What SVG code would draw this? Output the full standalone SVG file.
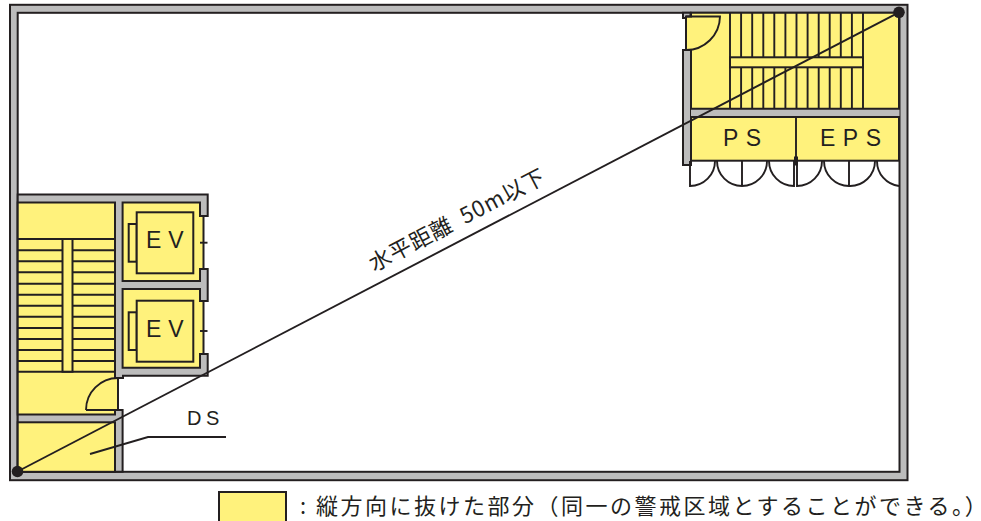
<svg xmlns="http://www.w3.org/2000/svg" width="981" height="521" viewBox="0 0 981 521">
<style>
.w{fill:#bcbcbc;stroke:#231f20;stroke-width:2}
.y{fill:#fff27c;stroke:#231f20;stroke-width:2}
.l{fill:none;stroke:#231f20;stroke-width:1.900}
.t{font-family:"Liberation Sans",Arial,sans-serif;fill:#231f20}
.j{font-family:"Noto Sans CJK JP","Noto Sans",sans-serif;fill:#231f20}
</style>
<rect width="981" height="521" fill="#fff"/>
<g id="building">
<rect class="w" x="10" y="4.800" width="897.500" height="475.400"/>
<rect x="17.700" y="12.800" width="881.800" height="459" fill="#fff" stroke="#231f20" stroke-width="2"/>
</g>
<g id="ne-core">
<path class="w" d="M683 12.800H690.500V18H683Z"/>
<rect class="w" x="683" y="50" width="8" height="115"/>
<path d="M691 12.800H899.500V117H691Z" fill="#bcbcbc"/>
<path class="y" d="M691 12.800H899V108.800H691V50H686V16.500H691Z"/>
<path class="l" d="M686 16.500H720A34 34 0 0 1 686 50V16.500"/>
<path class="l" d="M730 13V108.800M741.100 13V108.800M752.200 13V108.800M763.300 13V108.800M774.300 13V108.800M785.400 13V108.800M796.500 13V108.800M807.600 13V108.800M818.700 13V108.800M829.700 13V108.800M840.800 13V108.800M851.900 13V108.800M863 13V108.800"/>
<rect class="y" x="730" y="57.300" width="133" height="10"/>
<rect class="y" x="691" y="117" width="208" height="43.700"/>
<path class="l" d="M796 117V161"/>
<rect x="794" y="156.500" width="4" height="9" fill="#231f20"/>
<path class="l" d="M690 161V186A25 25 0 0 0 715 161M742 161V186A25 25 0 0 1 717 161M742 186A25 25 0 0 0 767 161M794 161V186A25 25 0 0 1 769 161M797 161V186A25 25 0 0 0 822 161M849 161V186A25 25 0 0 1 824 161M849 186A25 25 0 0 0 875 161M899 186A25 25 0 0 1 877 161"/>
<text class="t" x="723" y="146" font-size="23" letter-spacing="7.500">PS</text>
<text class="t" x="820" y="146" font-size="23" letter-spacing="7.500">EPS</text>
</g>
<g id="sw-core">
<path class="w" d="M17.700 194.500H207.700V216H200V269H207.700V301H200V354H207.700V375.700H123V378H118V410H122.600V471.800H17.700Z"/>
<path class="y" d="M17.700 202.500H115V378H118V410H115V414.500H17.700Z"/>
<path class="l" d="M86 410H118M86 410A32 32 0 0 1 118 378"/>
<path class="l" d="M18 239H115M18 250.300H115M18 261.300H115M18 272.300H115M18 283.700H115M18 294.700H115M18 305.700H115M18 316.700H115M18 328H115M18 339H115M18 350H115M18 361H115M18 371.700H115"/>
<rect class="y" x="62.500" y="239" width="10" height="132.700"/>
<rect class="y" x="17.700" y="422.300" width="97.300" height="49.500"/>
</g>
<g id="ev1">
<path class="y" d="M122.600 202.500H200V216H203.500V269H200V281H122.600Z"/>
<path class="l" d="M200 242.700H207.500"/>
<rect class="y" x="128.700" y="224" width="8" height="37.700"/>
<rect class="y" x="136.700" y="212.300" width="56.600" height="61"/>
<text class="t" x="146" y="248.300" font-size="23" letter-spacing="7">EV</text>
</g>
<g id="ev2">
<path class="y" d="M122.600 289H200V301H203.500V354H200V367.700H122.600Z"/>
<path class="l" d="M200 331H207.500"/>
<rect class="y" x="128.700" y="312.300" width="8" height="37.700"/>
<rect class="y" x="136.700" y="300.700" width="56.600" height="61"/>
<text class="t" x="146" y="336.700" font-size="23" letter-spacing="7">EV</text>
</g>
<g id="connectors">
<path class="l" d="M17.500 471.500L899 12.300"/>
<circle cx="17.500" cy="471.500" r="5.800" fill="#231f20"/>
<circle cx="899" cy="12.300" r="5.800" fill="#231f20"/>
<path class="l" d="M90 454L148 437H226"/>
</g>
<text class="t" x="187" y="425" font-size="20" letter-spacing="4.500">DS</text>
<text class="j" font-size="22" letter-spacing="0.800" transform="translate(374 272) rotate(-27.500)" xml:space="preserve">水平距離  50m以下</text>
<g id="legend">
<rect class="y" x="219" y="492" width="67" height="32"/>
<text class="j" x="300" y="514" font-size="22" letter-spacing="2.500">: 縦方向に抜けた部分（同一の警戒区域とすることができる。<tspan letter-spacing="0" style="font-feature-settings:'palt'">）</tspan></text>
</g>
</svg>
